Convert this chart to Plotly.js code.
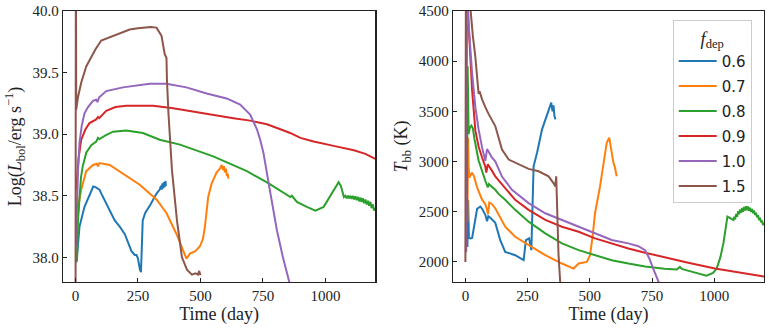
<!DOCTYPE html>
<html>
<head>
<meta charset="utf-8">
<script src="https://cdn.plot.ly/plotly-3.0.1.min.js"></script>
<style>
  body { margin: 0; background: #fff; }
  #chart { width: 769px; height: 331px; }
</style>
</head>
<body>
<div id="chart"></div>
<script>
// legend labels (f_dep values)
const fdep = ['0.6', '0.7', '0.8', '0.9', '1.0', '1.5'];

// left panel: log bolometric luminosity vs time (day)
const tL06 = [4, 7, 10, 16, 36, 56, 71, 80, 90, 96, 103, 123, 140, 157, 177, 197, 224, 237, 244, 250, 258, 262, 269, 279, 300, 325, 337, 342, 345, 348, 351, 354, 357, 360, 362];
const L06 = [37.96, 38.05, 38.15, 38.25, 38.41, 38.51, 38.575, 38.57, 38.56, 38.55, 38.52, 38.44, 38.38, 38.30, 38.25, 38.19, 38.05, 38.02, 38.02, 37.99, 37.90, 37.88, 38.30, 38.36, 38.43, 38.52, 38.55, 38.58, 38.55, 38.60, 38.56, 38.61, 38.57, 38.62, 38.58];

const tL07 = [8, 10, 14, 23, 43, 70, 85, 90, 96, 137, 190, 257, 324, 364, 404, 431, 444, 458, 480, 498, 510, 518, 525, 531, 545, 565, 578, 585, 590, 594, 598, 602, 606, 609, 612];
const L07 = [38.30, 38.36, 38.45, 38.55, 38.70, 38.75, 38.76, 38.74, 38.765, 38.75, 38.68, 38.59, 38.47, 38.36, 38.19, 38.06, 37.99, 38.03, 38.05, 38.09, 38.15, 38.25, 38.38, 38.49, 38.60, 38.69, 38.72, 38.75, 38.71, 38.74, 38.69, 38.72, 38.66, 38.68, 38.64];

const tL08 = [3, 6, 10, 16, 22, 29, 43, 63, 83, 90, 96, 120, 150, 203, 270, 337, 418, 551, 686, 773, 846, 860, 866, 886, 926, 960, 993, 1033, 1053, 1062, 1074, 1080, 1085, 1090, 1095, 1100, 1105, 1110, 1115, 1120, 1125, 1130, 1135, 1140, 1145, 1150, 1155, 1160, 1165, 1170, 1175, 1180, 1185, 1190, 1195, 1200];
const L08 = [38.00, 37.97, 38.30, 38.50, 38.65, 38.74, 38.85, 38.91, 38.94, 38.97, 38.96, 38.99, 39.02, 39.03, 39.01, 38.955, 38.915, 38.82, 38.70, 38.60, 38.51, 38.49, 38.50, 38.45, 38.41, 38.38, 38.41, 38.55, 38.61, 38.58, 38.49, 38.50, 38.48, 38.50, 38.48, 38.50, 38.475, 38.50, 38.47, 38.495, 38.465, 38.49, 38.455, 38.485, 38.45, 38.48, 38.44, 38.47, 38.43, 38.46, 38.42, 38.45, 38.40, 38.43, 38.38, 38.40];

const tL09 = [3, 6, 12, 23, 40, 56, 83, 90, 95, 123, 160, 203, 260, 311, 391, 450, 498, 560, 632, 699, 766, 820, 859, 900, 953, 1033, 1114, 1160, 1200];
const L09 = [38.55, 38.62, 38.80, 38.955, 39.04, 39.09, 39.12, 39.14, 39.13, 39.19, 39.22, 39.23, 39.23, 39.23, 39.21, 39.19, 39.17, 39.15, 39.13, 39.11, 39.08, 39.04, 39.01, 38.97, 38.94, 38.905, 38.87, 38.84, 38.80];

const tL10 = [2, 5, 10, 16, 25, 36, 50, 70, 83, 88, 95, 123, 190, 297, 364, 444, 525, 605, 659, 699, 726, 739, 752, 773, 790, 806, 830, 853, 862];
const L10 = [38.10, 38.40, 38.70, 38.93, 39.07, 39.17, 39.22, 39.27, 39.28, 39.26, 39.30, 39.35, 39.38, 39.41, 39.41, 39.38, 39.33, 39.29, 39.24, 39.16, 39.04, 38.955, 38.85, 38.60, 38.40, 38.22, 38.00, 37.83, 37.75];

const tL15 = [0, 1.5, 3, 10, 23, 43, 63, 80, 103, 130, 163, 217, 250, 284, 300, 324, 344, 357, 364, 366, 372, 386, 406, 426, 446, 466, 480, 490, 495, 500];
const L15 = [37.0, 40.6, 39.2, 39.3, 39.42, 39.55, 39.63, 39.69, 39.76, 39.78, 39.81, 39.85, 39.86, 39.87, 39.87, 39.865, 39.80, 39.65, 39.62, 39.44, 39.17, 38.71, 38.30, 38.00, 37.90, 37.86, 37.87, 37.86, 37.89, 37.855];

// right panel: blackbody temperature (K) vs time (day)
const tT06 = [8, 11, 14, 20, 27, 33, 47, 60, 67, 80, 87, 92, 100, 120, 140, 160, 200, 234, 243, 256, 265, 274, 288, 308, 321, 335, 341, 345, 350, 354, 358, 362];
const T06 = [2150, 2620, 2240, 2235, 2240, 2340, 2530, 2551, 2530, 2470, 2405, 2455, 2440, 2390, 2218, 2100, 2067, 2017, 2218, 2235, 2117, 2953, 3087, 3321, 3421, 3520, 3560, 3587, 3500, 3560, 3450, 3420];

const tT07 = [8, 11, 13, 16, 22, 27, 35, 47, 67, 80, 87, 91, 96, 105, 120, 160, 200, 254, 321, 388, 435, 445, 455, 488, 501, 511, 521, 541, 555, 568, 578, 583, 588, 595, 600, 604, 608];
const T07 = [2400, 3240, 2950, 2840, 2870, 2890, 2850, 2742, 2620, 2575, 2520, 2475, 2592, 2580, 2535, 2351, 2251, 2167, 2067, 1984, 1934, 1960, 1984, 2000, 2067, 2251, 2485, 2752, 2987, 3188, 3238, 3150, 3087, 2987, 2950, 2887, 2853];

const tT08 = [5, 9, 13, 18, 24, 30, 36, 53, 80, 87, 90, 94, 120, 134, 160, 200, 254, 321, 388, 455, 521, 588, 655, 722, 800, 850, 862, 870, 890, 936, 969, 995, 1010, 1025, 1037, 1053, 1065, 1077, 1080, 1084, 1088, 1092, 1096, 1100, 1104, 1108, 1112, 1116, 1120, 1124, 1128, 1132, 1136, 1140, 1144, 1148, 1152, 1156, 1160, 1164, 1168, 1172, 1176, 1180, 1184, 1188, 1192, 1196, 1200];
const T08 = [2150, 3950, 3274, 3340, 3358, 3330, 3230, 3010, 2809, 2770, 2742, 2775, 2719, 2675, 2619, 2519, 2401, 2285, 2185, 2117, 2067, 2017, 1984, 1955, 1933, 1925, 1950, 1930, 1916, 1883, 1863, 1890, 1934, 2050, 2187, 2451, 2430, 2418, 2450, 2425, 2478, 2450, 2505, 2475, 2522, 2490, 2538, 2500, 2548, 2512, 2555, 2515, 2552, 2510, 2540, 2498, 2528, 2485, 2512, 2468, 2490, 2445, 2465, 2418, 2440, 2395, 2412, 2368, 2390];

const tT09 = [3, 6, 12, 16, 27, 40, 53, 67, 80, 84, 90, 107, 120, 160, 200, 254, 321, 388, 455, 521, 588, 655, 722, 800, 900, 1003, 1100, 1200];
const T09 = [2100, 4800, 4400, 4200, 3709, 3308, 3150, 3040, 2950, 2890, 2973, 2907, 2853, 2736, 2619, 2519, 2418, 2351, 2301, 2235, 2185, 2134, 2092, 2045, 1990, 1934, 1895, 1855];

const tT10 = [2, 5, 12, 18, 27, 40, 53, 67, 80, 87, 107, 120, 147, 187, 254, 321, 388, 455, 521, 588, 655, 695, 722, 740, 755, 770, 780];
const T10 = [2100, 4900, 4400, 4150, 3876, 3542, 3320, 3141, 3007, 3124, 3040, 3003, 2850, 2719, 2586, 2485, 2418, 2351, 2285, 2218, 2185, 2157, 2117, 2030, 1930, 1830, 1780];

const tT15 = [0, 2, 14, 20, 30, 40, 53, 57, 62, 67, 80, 94, 120, 147, 174, 214, 254, 294, 334, 354, 361, 365, 368, 374, 381, 385];
const T15 = [2000, 4900, 4700, 4500, 4250, 4043, 3675, 3700, 3650, 3620, 3542, 3470, 3354, 3120, 3020, 2970, 2927, 2903, 2853, 2786, 2753, 2853, 2586, 2084, 1796, 1700];

const timeTicks = [0, 250, 500, 750, 1000];
const lumTicks = [38.0, 38.5, 39.0, 39.5, 40.0];
const tempTicks = [2000, 2500, 3000, 3500, 4000, 4500];

const colors = ['#1f77b4', '#ff7f0e', '#2ca02c', '#d62728', '#9467bd', '#8c564b'];

const lumSeries = [[tL06, L06], [tL07, L07], [tL08, L08], [tL09, L09], [tL10, L10], [tL15, L15]];
const tempSeries = [[tT06, T06], [tT07, T07], [tT08, T08], [tT09, T09], [tT10, T10], [tT15, T15]];

function make_traces(){
  let traces = [];
  lumSeries.forEach(function(s, i){
    traces.push({
      x: s[0], y: s[1], xaxis: 'x', yaxis: 'y',
      type: 'scatter', mode: 'lines', name: fdep[i],
      line: {color: colors[i], width: 2},
      showlegend: false, legendgroup: 'g' + i, hoverinfo: 'skip'
    });
  });
  tempSeries.forEach(function(s, i){
    traces.push({
      x: s[0], y: s[1], xaxis: 'x2', yaxis: 'y2',
      type: 'scatter', mode: 'lines', name: fdep[i],
      line: {color: colors[i], width: 2},
      showlegend: true, legendgroup: 'g' + i, hoverinfo: 'skip'
    });
  });
  return traces;
}

function axis_style(extra){
  let base = {
    ticks: 'inside', ticklen: 4, tickwidth: 1, tickcolor: '#222',
    showline: true, mirror: true, linecolor: '#222', linewidth: 1.3,
    showgrid: false, zeroline: false,
    tickfont: {family: 'Liberation Serif, serif', size: 15, color: '#222'}
  };
  return Object.assign(base, extra);
}

function generate_chart(){
  let titleFont = {family: 'Liberation Serif, serif', size: 18, color: '#222'};
  let layout = {
    width: 769, height: 331,
    margin: {l: 63, r: 5, t: 11, b: 49},
    paper_bgcolor: '#fff', plot_bgcolor: '#fff',
    font: {family: 'Liberation Serif, serif', size: 15, color: '#222'},
    xaxis: axis_style({
      domain: [0, 0.4456], range: [-50, 1200], tickvals: timeTicks, anchor: 'y',
      title: {text: 'Time (day)', font: titleFont, standoff: 2}
    }),
    yaxis: axis_style({
      domain: [0, 1], range: [37.8, 40.0], tickvals: lumTicks, tickformat: '.1f', anchor: 'x',
      title: {text: 'Log(<i>L</i><sub>bol</sub>/erg s<sup>\u22121</sup>)', font: titleFont, standoff: 6}
    }),
    xaxis2: axis_style({
      domain: [0.5563, 1], range: [-50, 1200], tickvals: timeTicks, anchor: 'y2',
      title: {text: 'Time (day)', font: titleFont, standoff: 2}
    }),
    yaxis2: axis_style({
      domain: [0, 1], range: [1800, 4500], tickvals: tempTicks, anchor: 'x2',
      title: {text: '<i>T</i><sub>bb</sub> (K)', font: titleFont, standoff: 6}
    }),
    legend: {
      x: 0.8698, y: 0.9657, xanchor: 'left', yanchor: 'top',
      bgcolor: 'rgba(255,255,255,0.8)', bordercolor: '#cccccc', borderwidth: 1,
      font: {family: 'DejaVu Sans, sans-serif', size: 15, color: '#222'},
      title: {text: '<i>f</i><sub>dep</sub>', side: 'top center', font: titleFont},
      tracegroupgap: 2.5, itemwidth: 38
    }
  };
  Plotly.newPlot(document.getElementById('chart'), make_traces(), layout, {displayModeBar: false, staticPlot: true});
}

window.onload = generate_chart;
</script>
</body>
</html>
